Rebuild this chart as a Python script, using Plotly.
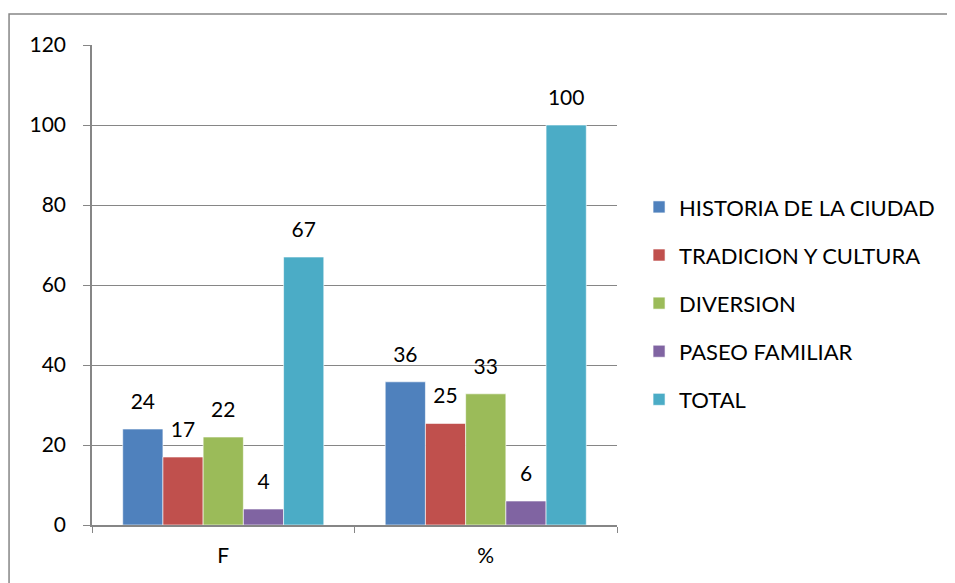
import plotly.graph_objects as go

categories = ["F", "%"]
series_names = ["HISTORIA DE LA CIUDAD", "TRADICION Y CULTURA", "DIVERSION", "PASEO FAMILIAR", "TOTAL"]
historia = [24, 35.8]
tradicion = [17, 25.4]
diversion = [22, 32.8]
paseo = [4, 6.0]
total = [67, 100]
colors = ["#4F81BD", "#C0504D", "#9BBB59", "#8064A2", "#4BACC6"]
y_ticks = [0, 20, 40, 60, 80, 100, 120]

FONT = "Lato, Liberation Sans, Arial, sans-serif"
fig = go.Figure()
all_vals = [historia, tradicion, diversion, paseo, total]
for i, (name, vals) in enumerate(zip(series_names, all_vals)):
    fig.add_trace(go.Bar(
        x=categories, y=vals, name=name,
        marker=dict(color=colors[i], line=dict(color="rgba(255,255,255,0.6)", width=1)),
        legendgroup=name, offsetgroup=str(i),
    ))
for i, (name, vals) in enumerate(zip(series_names, all_vals)):
    fig.add_trace(go.Scatter(
        x=categories, y=vals, mode="markers+text",
        text=[f"{v:.0f}" for v in vals], textposition="top center",
        marker=dict(size=22, color="rgba(0,0,0,0)"),
        textfont=dict(family=FONT, size=21, color="#000000"),
        showlegend=False, hoverinfo="skip", cliponaxis=False,
        offsetgroup=str(i),
    ))

gray = "#868686"
fig.update_layout(
    width=955, height=583,
    margin=dict(l=84, r=346, t=37, b=66),
    paper_bgcolor="white", plot_bgcolor="white",
    barmode="group", bargap=0.234, bargroupgap=0,
    scattermode="group", scattergap=0.234,
    font=dict(family=FONT, size=21, color="#000000"),
    showlegend=True,
    legend=dict(x=1.042, y=0.706, xanchor="left", yanchor="top",
                font=dict(family=FONT, size=22), tracegroupgap=16.5,
                traceorder="grouped", itemwidth=30),
    xaxis=dict(showline=True, linecolor=gray, linewidth=1.5, ticks="outside",
               tickcolor=gray, ticklen=6, tickson="boundaries", showgrid=False,
               tickfont=dict(size=21), ticklabelstandoff=11),
    yaxis=dict(range=[0, 120], tickvals=y_ticks, showline=True, linecolor=gray,
               linewidth=1.5, ticks="outside", tickcolor=gray, ticklen=7,
               showgrid=True, gridcolor=gray, gridwidth=1.2, zeroline=False,
               tickfont=dict(size=21), ticklabelstandoff=13),
    shapes=[dict(type="rect", xref="paper", yref="paper",
                 x0=-0.158, x1=1.70, y0=-0.2, y1=1.0646,
                 line=dict(color=gray, width=1.5), layer="below")],
)
fig.write_html("out.html")
